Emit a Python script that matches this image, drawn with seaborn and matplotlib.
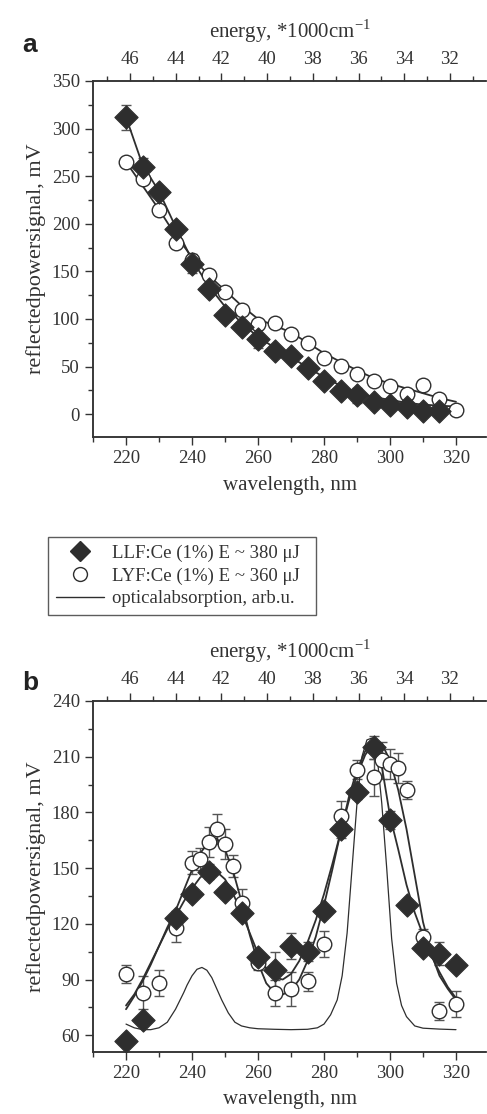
import numpy as np
import pandas as pd
import matplotlib
matplotlib.use('Agg')
import matplotlib.pyplot as plt
from matplotlib.lines import Line2D
from matplotlib.ticker import MultipleLocator
import seaborn as sns

# ---- panel a: reflected power signal vs wavelength ----
wl_a_llf = [220, 225, 230, 235, 240, 245, 250, 255, 260, 265, 270, 275, 280, 285, 290, 295, 300, 305, 310, 315]
sig_a_llf = [312, 260, 233, 194, 158, 132, 104, 92, 79, 66, 61, 48, 35, 24, 20, 13, 10, 8, 3, 3]
err_a_llf = [13, 9, 0, 0, 10, 0, 0, 0, 10, 0, 0, 0, 0, 0, 8, 0, 0, 0, 0, 0]

wl_a_lyf = [220, 225, 230, 235, 240, 245, 250, 255, 260, 265, 270, 275, 280, 285, 290, 295, 300, 305, 310, 315, 320]
sig_a_lyf = [265, 247, 215, 180, 162, 146, 128, 109, 95, 96, 84, 75, 59, 51, 42, 35, 30, 21, 31, 16, 4]

fit_wl_a = [220, 225, 230, 235, 240, 245, 250, 255, 260, 265, 270, 275, 280, 285, 290, 295, 300, 305, 310, 315, 320]
fit_a_llf = [312, 262, 234, 197, 162, 135, 113, 96, 81, 70, 60, 49, 39, 30, 22, 18, 15, 12, 10, 9, 8]
fit_a_lyf = [265, 240, 215, 188, 165, 146, 130, 114, 100, 93, 86, 75, 64, 55, 46, 38, 32, 27, 22, 17, 13]

# ---- panel b ----
wl_b_llf = [220, 225, 235, 240, 245, 250, 255, 260, 265, 270, 275, 280, 285, 290, 295, 300, 305, 310, 315, 320]
sig_b_llf = [57, 68, 123, 136, 148, 137, 126, 102, 95, 108, 105, 127, 171, 191, 215, 176, 130, 107, 104, 98]
err_b_llf = [3, 0, 4, 0, 4, 3, 0, 0, 10, 7, 5, 0, 5, 4, 6, 5, 0, 0, 6, 0]

wl_b_lyf = [220, 225, 230, 235, 240, 242.5, 245, 247.5, 250, 252.5, 255, 260, 265, 270, 275, 280,
            285, 290, 295, 297.5, 300, 302.5, 305, 310, 315, 320]
sig_b_lyf = [93, 83, 88, 118, 153, 155, 164, 171, 163, 151, 131, 99, 83, 85, 89, 109,
             178, 203, 199, 208, 206, 204, 192, 113, 73, 77]
err_b_lyf = [5, 9, 7, 8, 6, 6, 8, 8, 8, 6, 8, 4, 7, 9, 5, 7,
             8, 5, 10, 10, 8, 8, 5, 4, 5, 7]

fit_wl_b = [220, 222.5, 225, 227.5, 230, 232.5, 235, 237.5, 240, 242.5, 245, 247.5, 250, 252.5, 255,
            257.5, 260, 262.5, 265, 267.5, 270, 272.5, 275, 277.5, 280, 282.5, 285, 287.5, 290,
            292.5, 295, 297.5, 300, 302.5, 305, 307.5, 310, 312.5, 315, 317.5, 320]
fit_b_llf = [74, 81, 89, 98, 108, 117, 124, 132, 139, 145, 148, 148, 144, 136, 126,
             115, 104, 96, 91, 90, 93, 100, 110, 122, 136, 152, 169, 186, 200,
             211, 217, 205, 178, 160, 141, 126, 114, 103, 94, 86, 80]
fit_b_lyf = [76, 82, 90, 99, 108, 118, 127, 138, 149, 158, 164, 166, 160, 148, 132,
             114, 99, 88, 83, 82, 84, 90, 100, 113, 130, 149, 169, 188, 203,
             213, 218, 217, 208, 192, 171, 146, 121, 104, 92, 85, 79]

abs_wl = [220, 222.5, 225, 227.5, 230, 232.5, 235, 237.5, 238.5, 240, 241.5, 243, 244.5, 246, 247.5,
          249, 251, 253, 255, 257.5, 260, 265, 270, 275, 278, 280, 282, 284, 285.5, 287,
          288.5, 290, 291.5, 293, 294.5, 296, 297.5, 299, 300.5, 302, 303.5, 305, 307.5, 310, 315, 320]
abs_sig = [66, 64, 63, 63, 64, 67, 74, 83, 87, 92, 95.5, 96.5, 95, 91, 85,
           79, 72, 67, 65, 64, 63.5, 63.2, 63, 63.2, 64, 66, 71, 79, 92, 115,
           150, 185, 210, 219, 220, 212, 185, 150, 112, 88, 76, 70, 65, 63.8, 63.3, 63]

ylabel = 'reflectedpowersignal, mV'
toplabel = 'energy, *1000cm$^{\\mathregular{-1}}$'
dark = '#2e2e2e'
barc = '#555555'

sns.set_style('ticks')
plt.rcParams['font.family'] = ['Liberation Serif', 'DejaVu Serif']
plt.rcParams['mathtext.fontset'] = 'custom'
plt.rcParams['mathtext.rm'] = 'Liberation Serif'
plt.rcParams['axes.edgecolor'] = '#333333'
plt.rcParams['axes.linewidth'] = 1.1
plt.rcParams['xtick.color'] = '#333333'
plt.rcParams['ytick.color'] = '#333333'
plt.rcParams['text.color'] = '#333333'
plt.rcParams['axes.labelcolor'] = '#333333'

fig = plt.figure(figsize=(4.87, 11.14), dpi=100)
ax_a = fig.add_axes([0.191, 0.6077, 0.807, 0.3196])
ax_b = fig.add_axes([0.191, 0.0557, 0.807, 0.3151])


def draw_points(ax, wl, sig, err, filled):
    d = pd.DataFrame({'wl': wl, 'sig': sig})
    if err is not None:
        e = np.array(err)
        m = e > 0
        ax.errorbar(np.array(wl)[m], np.array(sig)[m], yerr=e[m], fmt='none',
                    ecolor=barc, elinewidth=1.0, capsize=3.5, capthick=1.0, zorder=2)
    if filled:
        sns.scatterplot(data=d, x='wl', y='sig', ax=ax, marker='D', s=140, color=dark,
                        edgecolor=dark, linewidth=0.8, zorder=4, legend=False)
    else:
        sns.scatterplot(data=d, x='wl', y='sig', ax=ax, marker='o', s=110, color='white',
                        edgecolor=dark, linewidth=1.0, zorder=4, legend=False)


def style_axes(ax, ylim, ymaj, ymin):
    ax.set_xlim(210, 329.1)
    ax.set_ylim(*ylim)
    ax.xaxis.set_major_locator(MultipleLocator(20))
    ax.xaxis.set_minor_locator(MultipleLocator(10))
    ax.yaxis.set_major_locator(MultipleLocator(ymaj))
    ax.yaxis.set_minor_locator(MultipleLocator(ymin))
    ax.set_xticks([220, 240, 260, 280, 300, 320])
    ax.tick_params(which='major', direction='out', length=6, width=1.0, labelsize=13.5)
    ax.tick_params(which='minor', direction='out', length=3.5, width=1.0)
    ax.spines['right'].set_visible(False)
    ax.set_xlabel('wavelength, nm', fontsize=15, labelpad=6)
    ax.set_ylabel(ylabel, fontsize=16, labelpad=4)
    top = ax.twiny()
    top.set_xlim(47.62, 30.42)
    top.set_xticks([46, 44, 42, 40, 38, 36, 34, 32])
    top.xaxis.set_minor_locator(MultipleLocator(1))
    top.tick_params(which='major', direction='out', length=6, width=1.0, labelsize=13.5)
    top.tick_params(which='minor', direction='out', length=3.5, width=1.0)
    top.spines['right'].set_visible(False)
    top.set_xlabel(toplabel, fontsize=15, labelpad=9)
    return top


# panel a
sns.lineplot(x=fit_wl_a, y=fit_a_llf, ax=ax_a, color=dark, linewidth=1.3, zorder=3)
sns.lineplot(x=fit_wl_a, y=fit_a_lyf, ax=ax_a, color=dark, linewidth=1.3, zorder=3)
draw_points(ax_a, wl_a_lyf, sig_a_lyf, None, False)
draw_points(ax_a, wl_a_llf, sig_a_llf, err_a_llf, True)
ax_a.set_yticks([0, 50, 100, 150, 200, 250, 300, 350])
style_axes(ax_a, (-24, 350), 50, 25)

# panel b
sns.lineplot(x=abs_wl, y=abs_sig, ax=ax_b, color=dark, linewidth=0.9, zorder=3)
sns.lineplot(x=fit_wl_b, y=fit_b_llf, ax=ax_b, color=dark, linewidth=1.3, zorder=3)
sns.lineplot(x=fit_wl_b, y=fit_b_lyf, ax=ax_b, color=dark, linewidth=1.3, zorder=3)
draw_points(ax_b, wl_b_lyf, sig_b_lyf, err_b_lyf, False)
draw_points(ax_b, wl_b_llf, sig_b_llf, err_b_llf, True)
style_axes(ax_b, (51, 240), 30, 15)
ax_b.set_yticks([60, 90, 120, 150, 180, 210, 240])

fig.text(0.045, 0.953, 'a', fontsize=19, fontweight='bold', family='Liberation Sans', color='#222222')
fig.text(0.045, 0.381, 'b', fontsize=19, fontweight='bold', family='Liberation Sans', color='#222222')

handles = [
    Line2D([], [], marker='D', linestyle='none', markersize=10, color=dark),
    Line2D([], [], marker='o', linestyle='none', markersize=10, markerfacecolor='white',
           markeredgecolor=dark),
    Line2D([], [], color=dark, linewidth=1.0),
]
labels = ['LLF:Ce (1%) E ~ 380 \u03bcJ', 'LYF:Ce (1%) E ~ 360 \u03bcJ', 'opticalabsorption, arb.u.']
leg = fig.legend(handles, labels, loc='upper left',
                 bbox_to_anchor=(0.099, 0.518, 0.55, 0.0),
                 bbox_transform=fig.transFigure, mode='expand', fontsize=13.5, frameon=True,
                 fancybox=False, edgecolor='#333333', handlelength=2.6, handletextpad=0.4,
                 borderpad=0.4, labelspacing=0.3, borderaxespad=0)
leg.get_frame().set_linewidth(1.0)

fig.savefig('out.png', dpi=100)
